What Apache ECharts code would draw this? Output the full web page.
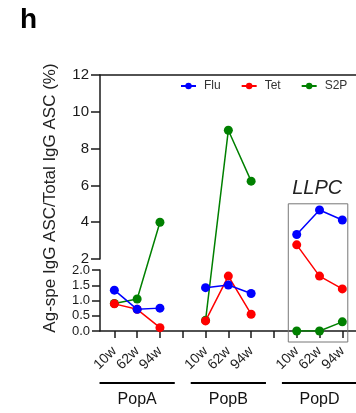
<!DOCTYPE html>
<html>
<head>
<meta charset="utf-8">
<script src="https://cdn.jsdelivr.net/npm/echarts@6/dist/echarts.min.js"></script>
<style>html,body{margin:0;padding:0;background:#fff}#c{width:356px;height:413px}</style>
</head>
<body>
<div id="c"></div>
<script>
// ---- data ----
const categories = ['10w','62w','94w','', '10w','62w','94w','', '10w','62w','94w'];
const groupNames = ['PopA','PopB','PopD'];
const groupCenters = [1, 5, 9];
const fluValues = [1.34, 0.71, 0.75, null, 1.42, 1.51, 1.23, null, 3.33, 4.66, 4.12];
const tetValues = [0.89, 0.71, 0.11, null, 0.33, 1.80, 0.55, null, 2.77, 1.80, 1.38];
const s2pValues = [0.90, 1.05, 4.00, null, 0.35, 9.00, 6.23, null, 0.00, 0.00, 0.30];
const upperTicks = [2, 12, 2];   // min, max, interval
const lowerTicks = [0, 2, 0.5];

// ---- layout ----
const FONT = 'Liberation Sans, Arial, sans-serif';
const X_MIN = -0.63, X_MAX = 10.6;
const H_LOW = 61, GAP = 11, H_UP = 184;
const TOP = 75;
const LOW_TOP = TOP + H_UP + GAP;
const TOTAL = H_LOW + GAP + H_UP;
function tf(v) {
  if (v === null) return '-';
  return v <= 2 ? v / 2 * H_LOW : H_LOW + GAP + (v - 2) / 10 * H_UP;
}
const idx = categories.map((c, i) => i);
const labelIdx = idx.filter(i => categories[i] !== '');
function toData(arr) { return arr.map((v, i) => [i, tf(v)]); }

const axisColor = '#1a1a1a';
const axisLineStyle = { show: true, onZero: false, lineStyle: { color: axisColor, width: 1.5 } };
const chart = echarts.init(document.getElementById('c'));
const lineSeries = (name, vals, color, z) => ({
  name, type: 'line', xAxisIndex: 2, yAxisIndex: 2, data: toData(vals),
  symbol: 'circle', symbolSize: 9, connectNulls: false, z,
  itemStyle: { color }, lineStyle: { color, width: 1.5 }, emphasis: { disabled: true }
});

chart.setOption({
  animation: false,
  textStyle: { fontFamily: FONT },
  title: { text: 'h', left: 15, top: 1, textStyle: { fontSize: 28, fontWeight: 'bold', color: '#000', fontFamily: FONT } },
  legend: {
    data: ['Flu', 'Tet', 'S2P'], left: 180, top: 80, width: 176, itemWidth: 15, itemHeight: 8, itemGap: 20,
    padding: 0,
    textStyle: { fontSize: 12, color: '#333', fontFamily: FONT, padding: [0, 0, 0, 3] }
  },
  grid: [
    { left: 100, right: 0, top: TOP, height: H_UP },
    { left: 100, right: 0, top: LOW_TOP, height: H_LOW },
    { left: 100, right: 0, top: TOP, height: TOTAL }
  ],
  xAxis: [
    { gridIndex: 0, type: 'value', min: X_MIN, max: X_MAX, position: 'top',
      axisLine: axisLineStyle,
      axisTick: { show: false }, axisLabel: { show: false }, splitLine: { show: false } },
    { gridIndex: 1, type: 'value', min: X_MIN, max: X_MAX, position: 'bottom',
      axisLine: axisLineStyle,
      axisTick: { show: true, customValues: idx, length: 7, lineStyle: { color: axisColor, width: 1.5 } },
      axisLabel: { customValues: labelIdx, formatter: v => categories[Math.round(v)], rotate: 45, margin: 18,
        fontSize: 14, color: '#222', fontFamily: FONT },
      splitLine: { show: false } },
    { gridIndex: 2, type: 'value', min: X_MIN, max: X_MAX, show: false }
  ],
  yAxis: [
    { gridIndex: 0, type: 'value', min: upperTicks[0], max: upperTicks[1], interval: upperTicks[2],
      axisLine: axisLineStyle,
      axisTick: { show: true, length: 9, lineStyle: { color: axisColor, width: 1.5 } },
      axisLabel: { fontSize: 15, color: '#1a1a1a', margin: 11, fontFamily: FONT }, splitLine: { show: false } },
    { gridIndex: 1, type: 'value', min: lowerTicks[0], max: lowerTicks[1], interval: lowerTicks[2],
      axisLine: axisLineStyle,
      axisTick: { show: true, length: 8, lineStyle: { color: axisColor, width: 1.5 } },
      axisLabel: { fontSize: 13, color: '#1a1a1a', margin: 10, fontFamily: FONT, formatter: v => v.toFixed(1) },
      splitLine: { show: false } },
    { gridIndex: 2, type: 'value', min: 0, max: TOTAL,
      name: 'Ag-spe IgG ASC/Total IgG ASC (%)', nameLocation: 'middle', nameGap: 41,
      nameTextStyle: { fontSize: 17, color: '#222', fontFamily: FONT, padding: [0, 0, 0, 10] },
      axisLine: { show: false, onZero: false }, axisTick: { show: false }, axisLabel: { show: false }, splitLine: { show: false } }
  ],
  series: [
    lineSeries('Flu', fluValues, '#0000ff', 5),
    lineSeries('Tet', tetValues, '#ff0000', 4),
    lineSeries('S2P', s2pValues, '#008000', 3),
    { type: 'custom', xAxisIndex: 2, yAxisIndex: 2, silent: true, clip: false, z: 2,
      data: groupCenters.map(c => [c, 0]),
      renderItem: (params, api) => {
        const c = api.value(0);
        const p1 = api.coord([c - 1.65, 0]);
        const p2 = api.coord([c + 1.65, 0]);
        const pc = api.coord([c, 0]);
        return { type: 'group', children: [
          { type: 'line', shape: { x1: p1[0], y1: p1[1] + 52, x2: p2[0], y2: p2[1] + 52 },
            style: { stroke: '#000', lineWidth: 2 } },
          { type: 'text', x: pc[0], y: pc[1] + 61,
            style: { text: groupNames[params.dataIndex], fontSize: 16, fontFamily: FONT, fill: '#111',
              align: 'center', verticalAlign: 'top' } }
        ] };
      } },
    { type: 'custom', xAxisIndex: 2, yAxisIndex: 2, silent: true, clip: false, z: 1,
      data: [[8.9, tf(5)]],
      renderItem: (params, api) => {
        const tl = api.coord([7.63, api.value(1)]);
        const br = api.coord([10.24, 0]);
        const tc = api.coord([api.value(0), api.value(1)]);
        return { type: 'group', children: [
          { type: 'rect', shape: { x: tl[0], y: tl[1], width: br[0] - tl[0], height: br[1] + 11 - tl[1] },
            style: { fill: 'none', stroke: '#777', lineWidth: 1 } },
          { type: 'text', x: tc[0], y: tc[1] - 15,
            style: { text: 'LLPC', fontSize: 20, fontStyle: 'italic', fontFamily: FONT, fill: '#222',
              align: 'center', verticalAlign: 'middle' } }
        ] };
      } }
  ]
});
</script>
</body>
</html>
